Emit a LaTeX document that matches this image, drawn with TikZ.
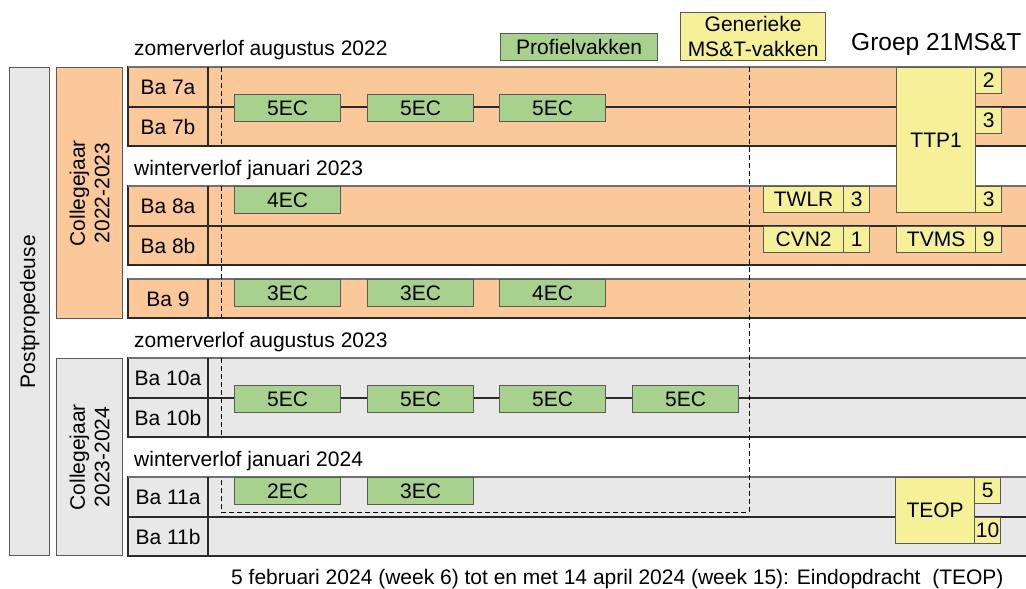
\documentclass[tikz,border=0pt]{standalone}
\usepackage{fontspec}
\setmainfont{Liberation Sans}
\definecolor{orng}{HTML}{FBC999}
\definecolor{grn}{HTML}{A9D18E}
\definecolor{yel}{HTML}{F6F199}
\definecolor{gry}{HTML}{E8E8E8}
\definecolor{bord}{HTML}{2A2A2A}
\definecolor{lbord}{HTML}{5A5A5A}
\definecolor{topb}{HTML}{707070}
\begin{document}
\begin{tikzpicture}[x=1pt,y=-1pt,
  every node/.style={font=\fontsize{21}{24.5}\selectfont, inner sep=0pt},
  bandO/.style={fill=orng, draw=bord, line width=1.2pt},
  bandG/.style={fill=gry, draw=bord, line width=1.2pt},
  topline/.style={draw=topb, line width=1.2pt},
  divline/.style={draw=bord, line width=1.2pt},
  sidebox/.style={draw=lbord, line width=1.2pt},
  greenbox/.style={fill=grn, draw=lbord, line width=1.2pt, anchor=north west, minimum width=106pt, minimum height=27pt},
  ybox/.style={fill=yel, draw=lbord, line width=1.2pt, anchor=north west},
  nbox/.style={fill=yel, draw=lbord, line width=1.2pt, anchor=north west, minimum width=26pt, minimum height=26pt},
  lbl/.style={anchor=center},
  note/.style={anchor=base west},
  dashline/.style={draw=black, line width=1pt, dash pattern=on 5pt off 3pt}
]
\useasboundingbox (0,0) rectangle (1026,589);
\fill[white] (0,0) rectangle (1026,589);

% side boxes
\node[sidebox, fill=gry, anchor=north west, minimum width=40pt, minimum height=488pt] (post) at (9,67) {};
\node[rotate=90] (postt) at (post.center) {Postpropedeuse};
\node[sidebox, fill=orng, anchor=north west, minimum width=66pt, minimum height=251pt] (cj1) at (56,67) {};
\node[rotate=90, align=center] (cj1t) at (cj1.center) {Collegejaar\\2022-2023};
\node[sidebox, fill=gry, anchor=north west, minimum width=66pt, minimum height=197pt] (cj2) at (56,358) {};
\node[rotate=90, align=center] (cj2t) at (cj2.center) {Collegejaar\\2023-2024};

% bands
\draw[bandO] (128,67) rectangle (1032,146);
\draw[topline] (128,67) -- (1032,67);
\draw[divline] (128,107) -- (1032,107);
\draw[divline] (208,67) -- (208,146);
\draw[bandO] (128,186) rectangle (1032,265);
\draw[topline] (128,186) -- (1032,186);
\draw[divline] (128,226) -- (1032,226);
\draw[divline] (208,186) -- (208,265);
\draw[bandO] (128,279) rectangle (1032,318);
\draw[topline] (128,279) -- (1032,279);
\draw[divline] (208,279) -- (208,318);
\draw[bandG] (128,358) rectangle (1032,437);
\draw[topline] (128,358) -- (1032,358);
\draw[divline] (128,398) -- (1032,398);
\draw[divline] (208,358) -- (208,437);
\draw[bandG] (128,477) rectangle (1032,556);
\draw[topline] (128,477) -- (1032,477);
\draw[divline] (128,517) -- (1032,517);
\draw[divline] (208,477) -- (208,556);

% row labels
\node[lbl] (b7a) at (168,87) {Ba 7a};
\node[lbl] (b7b) at (168,127) {Ba 7b};
\node[lbl] (b8a) at (168,206) {Ba 8a};
\node[lbl] (b8b) at (168,246) {Ba 8b};
\node[lbl] (b9) at (168,299) {Ba 9};
\node[lbl] (b10a) at (168,378) {Ba 10a};
\node[lbl] (b10b) at (168,418) {Ba 10b};
\node[lbl] (b11a) at (168,497) {Ba 11a};
\node[lbl] (b11b) at (168,537) {Ba 11b};

% dashed frame (left side hidden behind the period labels)
\coordinate (dA) at (221,67);
\coordinate (dB) at (749,67);
\coordinate (dC) at (749,512);
\coordinate (dD) at (221,512);
\draw[dashline] (dB) -- (dC) -- (dD) -- (221,477);
\draw[dashline] (221,358) -- (221,437);
\draw[dashline] (221,186) -- (221,318);
\draw[dashline] (dA) -- (221,146);

% period labels
\node[note] (z22) at (134,55) {zomerverlof augustus 2022};
\node[note] (w23) at (134,175) {winterverlof januari 2023};
\node[note] (z23) at (134,347) {zomerverlof augustus 2023};
\node[note] (w24) at (134,466) {winterverlof januari 2024};
\node[note] (bot) at (231,584) {5 februari 2024 (week 6) tot en met 14 april 2024 (week 15): Eindopdracht\ \ (TEOP)};
\node[note, font=\fontsize{24.5}{28}\selectfont] (grp) at (851,50) {Groep 21MS\&T};

% legend
\node[greenbox, minimum width=157pt, minimum height=27pt] (leg1) at (500,33) {Profielvakken};
\node[ybox, minimum width=145pt, minimum height=48pt, align=center] (leg2) at (680,12) {Generieke\\MS\&T-vakken};

% green boxes
\node[greenbox] (g71) at (234,94) {5EC};
\node[greenbox] (g72) at (367,94) {5EC};
\node[greenbox] (g73) at (499,94) {5EC};
\node[greenbox] (g8) at (234,186) {4EC};
\node[greenbox] (g91) at (234,279) {3EC};
\node[greenbox] (g92) at (367,279) {3EC};
\node[greenbox] (g93) at (499,279) {4EC};
\node[greenbox] (g101) at (234,385) {5EC};
\node[greenbox] (g102) at (367,385) {5EC};
\node[greenbox] (g103) at (499,385) {5EC};
\node[greenbox] (g104) at (632,385) {5EC};
\node[greenbox] (g111) at (234,477) {2EC};
\node[greenbox] (g112) at (367,477) {3EC};

% yellow boxes
\node[ybox, minimum width=79pt, minimum height=145pt] (ttp) at (896,67) {TTP1};
\node[nbox] (ttp2) at (975,67) {2};
\node[nbox] (ttp3a) at (975,107) {3};
\node[nbox] (ttp3b) at (975,186) {3};
\node[ybox, minimum width=80pt, minimum height=26pt] (twlr) at (763,186) {TWLR};
\node[nbox] (twlrn) at (843,186) {3};
\node[ybox, minimum width=80pt, minimum height=26pt] (cvn) at (763,226) {CVN2};
\node[nbox] (cvnn) at (843,226) {1};
\node[ybox, minimum width=79pt, minimum height=26pt] (tvms) at (896,226) {TVMS};
\node[nbox] (tvmsn) at (975,226) {9};
\node[ybox, minimum width=79pt, minimum height=66pt] (teop) at (895,477) {TEOP};
\node[nbox] (teop5) at (974,477) {5};
\node[nbox] (teop10) at (974,517) {10};
\end{tikzpicture}
\end{document}
